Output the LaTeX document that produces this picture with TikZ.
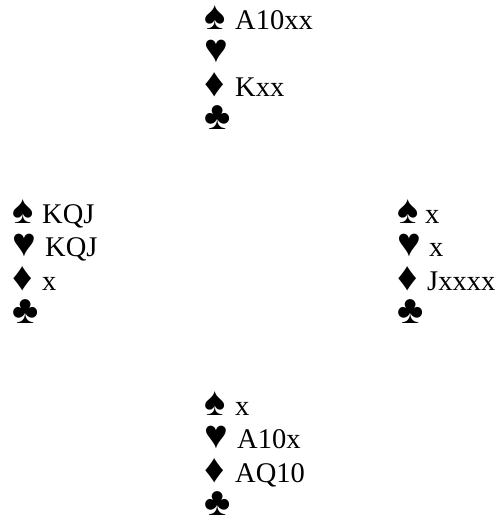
\documentclass[tikz,border=0pt]{standalone}
\usepackage{fontspec}
\setmainfont{Liberation Serif}
\newcommand{\suit}[2][30pt]{\makebox[#1][l]{\smash{\fontsize{40}{33}\selectfont #2}}}
\begin{document}
\begin{tikzpicture}[x=1pt,y=1pt,
  handline/.style={anchor=base west,inner sep=0pt,font=\fontsize{28.5}{33}\selectfont}]
\useasboundingbox (0,0) rectangle (500,-525);
% North
\node[handline] (ns) at (204,-29) {\suit[31pt]{♠}A10xx};
\node[handline] (nh) at (204,-62.5) {\suit[31pt]{♥}};
\node[handline] (nd) at (204,-96) {\suit[31pt]{♦}Kxx};
\node[handline] (nc) at (204,-129.5) {\suit[31pt]{♣}};
% West
\node[handline] (ws) at (12,-223) {\suit{♠}KQJ};
\node[handline] (wh) at (12,-256.5) {\suit[33pt]{♥}KQJ};
\node[handline] (wd) at (12,-290) {\suit{♦}x};
\node[handline] (wc) at (12,-323.5) {\suit{♣}};
% East
\node[handline] (es) at (397,-223) {\suit[28pt]{♠}x};
\node[handline] (eh) at (397,-256.5) {\suit[32pt]{♥}x};
\node[handline] (ed) at (397,-290) {\suit[30pt]{♦}Jxxxx};
\node[handline] (ec) at (397,-323.5) {\suit{♣}};
% South
\node[handline] (ss) at (204,-415) {\suit[31pt]{♠}x};
\node[handline] (sh) at (204,-448.5) {\suit[33pt]{♥}A10x};
\node[handline] (sd) at (204,-482) {\suit[31pt]{♦}AQ10};
\node[handline] (sc) at (204,-515.5) {\suit[31pt]{♣}};
\end{tikzpicture}
\end{document}
